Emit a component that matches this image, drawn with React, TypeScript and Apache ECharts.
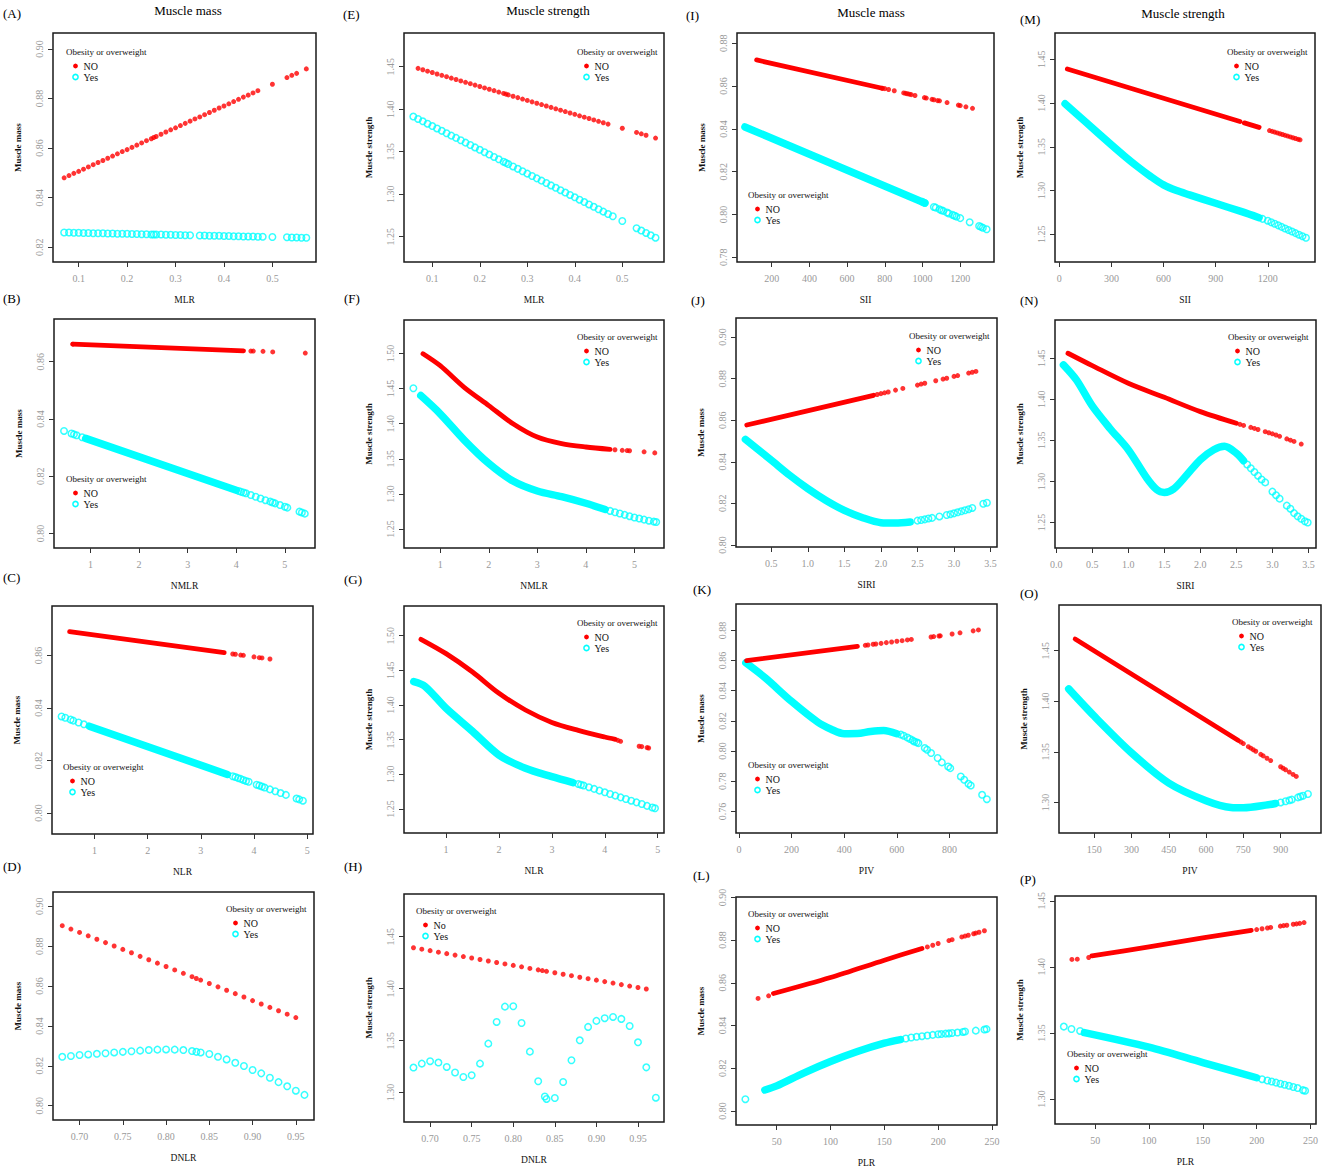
import React, { useEffect, useRef } from 'react';
import * as echarts from 'echarts';

type P = [number, number];

const FONT = '"Liberation Serif", "Times New Roman", serif';
const RED = '#FF0000';
const CYAN = '#00FFFF';

// ---------------- Panel A (MLR, muscle mass)
const aNoPts: P[] = [[0.07,0.8480],[0.08,0.8489],[0.09,0.8498],[0.10,0.8506],[0.11,0.8515],[0.12,0.8524],[0.13,0.8533],[0.14,0.8542],[0.15,0.8550],[0.16,0.8559],[0.17,0.8568],[0.18,0.8577],[0.19,0.8586],[0.20,0.8594],[0.21,0.8603],[0.22,0.8612],[0.23,0.8621],[0.24,0.8630],[0.25,0.8638],[0.255,0.8643],[0.26,0.8647],[0.27,0.8656],[0.28,0.8665],[0.29,0.8674],[0.30,0.8682],[0.31,0.8691],[0.32,0.8700],[0.33,0.8709],[0.34,0.8718],[0.35,0.8726],[0.36,0.8735],[0.37,0.8744],[0.38,0.8753],[0.39,0.8762],[0.40,0.8770],[0.41,0.8779],[0.42,0.8788],[0.43,0.8797],[0.44,0.8806],[0.45,0.8814],[0.46,0.8823],[0.47,0.8832],[0.50,0.8858],[0.53,0.8885],[0.54,0.8894],[0.55,0.8902],[0.57,0.8920]];
const aYesPts: P[] = [[0.07,0.8259],[0.08,0.8259],[0.09,0.8258],[0.10,0.8258],[0.11,0.8257],[0.12,0.8257],[0.13,0.8256],[0.14,0.8256],[0.15,0.8256],[0.16,0.8255],[0.17,0.8255],[0.18,0.8254],[0.19,0.8254],[0.20,0.8254],[0.21,0.8253],[0.22,0.8253],[0.23,0.8252],[0.24,0.8252],[0.25,0.8251],[0.255,0.8251],[0.26,0.8251],[0.27,0.8251],[0.28,0.8250],[0.29,0.8250],[0.30,0.8249],[0.31,0.8249],[0.32,0.8248],[0.33,0.8248],[0.35,0.8247],[0.36,0.8247],[0.37,0.8246],[0.38,0.8246],[0.39,0.8246],[0.40,0.8245],[0.41,0.8245],[0.42,0.8244],[0.43,0.8244],[0.44,0.8243],[0.45,0.8243],[0.46,0.8243],[0.47,0.8242],[0.48,0.8242],[0.50,0.8241],[0.53,0.8240],[0.54,0.8239],[0.55,0.8239],[0.56,0.8238],[0.57,0.8238]];

// ---------------- Panel E (MLR, muscle strength)
const eNoPts: P[] = [[0.07,1.4480],[0.08,1.4464],[0.09,1.4447],[0.10,1.4431],[0.11,1.4414],[0.12,1.4398],[0.13,1.4382],[0.14,1.4365],[0.15,1.4349],[0.16,1.4332],[0.17,1.4316],[0.18,1.4300],[0.19,1.4283],[0.20,1.4267],[0.21,1.4250],[0.22,1.4234],[0.23,1.4218],[0.24,1.4201],[0.25,1.4185],[0.255,1.4177],[0.26,1.4168],[0.27,1.4152],[0.28,1.4136],[0.29,1.4119],[0.30,1.4103],[0.31,1.4086],[0.32,1.4070],[0.33,1.4054],[0.34,1.4037],[0.35,1.4021],[0.36,1.4004],[0.37,1.3988],[0.38,1.3972],[0.39,1.3955],[0.40,1.3939],[0.41,1.3922],[0.42,1.3906],[0.43,1.3890],[0.44,1.3873],[0.45,1.3857],[0.46,1.3840],[0.47,1.3824],[0.50,1.3775],[0.53,1.3726],[0.54,1.3710],[0.55,1.3693],[0.57,1.3660]];
const eYesPts: P[] = [[0.06,1.3913],[0.07,1.3885],[0.08,1.3857],[0.09,1.3829],[0.10,1.3801],[0.11,1.3773],[0.12,1.3745],[0.13,1.3717],[0.14,1.3689],[0.15,1.3662],[0.16,1.3634],[0.17,1.3606],[0.18,1.3578],[0.19,1.3550],[0.20,1.3522],[0.21,1.3494],[0.22,1.3466],[0.23,1.3438],[0.24,1.3410],[0.25,1.3382],[0.255,1.3368],[0.26,1.3354],[0.27,1.3326],[0.28,1.3298],[0.29,1.3270],[0.30,1.3242],[0.31,1.3214],[0.32,1.3186],[0.33,1.3159],[0.34,1.3131],[0.35,1.3103],[0.36,1.3075],[0.37,1.3047],[0.38,1.3019],[0.39,1.2991],[0.40,1.2963],[0.41,1.2935],[0.42,1.2907],[0.43,1.2879],[0.44,1.2851],[0.45,1.2823],[0.46,1.2795],[0.47,1.2767],[0.48,1.2740],[0.50,1.2684],[0.53,1.2600],[0.54,1.2572],[0.55,1.2544],[0.56,1.2516],[0.57,1.2488]];

// ---------------- Panel I (SII, muscle mass)
const iNoBand: P[] = [[120,0.8722],[786,0.8590]];
const iNoPts: P[] = [[786,0.8590],[800,0.8588],[820,0.8584],[850,0.8578],[900,0.8568],[910,0.8566],[920,0.8564],[930,0.8562],[940,0.8560],[960,0.8556],[1010,0.8546],[1020,0.8544],[1050,0.8538],[1060,0.8536],[1080,0.8532],[1090,0.8531],[1130,0.8523],[1190,0.8511],[1200,0.8509],[1230,0.8503],[1265,0.8496]];
const iYesBand: P[] = [[58,0.8409],[1012,0.8054]];
const iYesPts: P[] = [[1000,0.8059],[1012,0.8054],[1060,0.8035],[1070,0.8032],[1090,0.8024],[1100,0.8020],[1110,0.8017],[1130,0.8009],[1140,0.8005],[1160,0.7998],[1170,0.7994],[1180,0.7990],[1200,0.7983],[1250,0.7964],[1300,0.7946],[1310,0.7942],[1320,0.7938],[1340,0.7931]];

// ---------------- Panel M (SII, muscle strength)
const mNoBand1: P[] = [[46,1.4389],[1040,1.3789]];
const mNoBand2: P[] = [[1065,1.3774],[1150,1.3722]];
const mNoPts: P[] = [[1210,1.3686],[1225,1.3677],[1240,1.3668],[1255,1.3659],[1270,1.3650],[1285,1.3641],[1300,1.3632],[1315,1.3623],[1330,1.3613],[1345,1.3604],[1360,1.3595],[1375,1.3586],[1386,1.3580]];
const mYesBand: P[] = [[33,1.3992],[150,1.3786],[300,1.3523],[375,1.3395],[450,1.3274],[525,1.3163],[600,1.3065],[675,1.3000],[750,1.2951],[900,1.2855],[1050,1.2759],[1150,1.2690]];
const mYesPts: P[] = [[1170,1.2677],[1200,1.2656],[1220,1.2638],[1240,1.2621],[1260,1.2603],[1280,1.2585],[1300,1.2567],[1320,1.2549],[1340,1.2532],[1360,1.2514],[1380,1.2496],[1400,1.2479],[1420,1.2461]];

// ---------------- Panel B (NMLR, muscle mass)
const bNoBand: P[] = [[0.636,0.8661],[4.15,0.8638]];
const bNoPts: P[] = [[0.636,0.8661],[4.3,0.8637],[4.35,0.8637],[4.55,0.8636],[4.75,0.8634],[5.42,0.8630]];
const bYesBand: P[] = [[0.9,0.8332],[4.0,0.8151]];
const bYesPts: P[] = [[0.455,0.8358],[0.609,0.8349],[0.66,0.8346],[0.714,0.8343],[0.827,0.8336],[4.05,0.8148],[4.1,0.8145],[4.15,0.8143],[4.2,0.8140],[4.3,0.8134],[4.4,0.8128],[4.5,0.8122],[4.6,0.8116],[4.7,0.8111],[4.75,0.8108],[4.8,0.8105],[4.9,0.8099],[5.0,0.8093],[5.05,0.8090],[5.3,0.8076],[5.35,0.8073],[5.41,0.8069]];

// ---------------- Panel F (NMLR, muscle strength)
const fNoBand: P[] = [[0.645,1.4996],[1,1.4826],[1.5,1.4514],[2,1.4259],[2.5,1.4000],[3,1.3810],[3.5,1.3717],[4,1.3669],[4.5,1.3636]];
const fNoPts: P[] = [[4.6,1.3630],[4.75,1.3622],[4.85,1.3618],[4.9,1.3615],[5.2,1.3600],[5.42,1.3585]];
const fYesBand: P[] = [[0.6,1.4401],[1,1.4142],[1.5,1.3764],[2,1.3435],[2.5,1.3184],[3,1.3042],[3.5,1.2962],[4,1.2868],[4.4,1.2780]];
const fYesPts: P[] = [[0.447,1.4505],[4.5,1.2759],[4.6,1.2740],[4.7,1.2722],[4.8,1.2703],[4.9,1.2684],[5.0,1.2665],[5.1,1.2650],[5.2,1.2635],[5.3,1.2620],[5.4,1.2607],[5.45,1.2600]];

// ---------------- Panel J (SIRI, muscle mass)
const jNoBand: P[] = [[0.165,0.8577],[1.9,0.8720]];
const jNoPts: P[] = [[1.95,0.8724],[2.0,0.8728],[2.05,0.8732],[2.1,0.8736],[2.2,0.8745],[2.3,0.8753],[2.5,0.8769],[2.55,0.8774],[2.6,0.8778],[2.75,0.8790],[2.85,0.8798],[2.9,0.8802],[3.0,0.8811],[3.05,0.8815],[3.2,0.8827],[3.25,0.8831],[3.3,0.8835]];
const jYesBand: P[] = [[0.147,0.8508],[0.5,0.8408],[0.75,0.8336],[1.0,0.8271],[1.25,0.8214],[1.5,0.8166],[1.75,0.8131],[2.0,0.8107],[2.2,0.8105],[2.4,0.8110]];
const jYesPts: P[] = [[2.5,0.8117],[2.55,0.8120],[2.6,0.8123],[2.65,0.8127],[2.7,0.8130],[2.8,0.8137],[2.9,0.8144],[2.95,0.8148],[3.0,0.8152],[3.05,0.8157],[3.1,0.8162],[3.15,0.8167],[3.2,0.8172],[3.25,0.8178],[3.4,0.8198],[3.45,0.8203]];

// ---------------- Panel N (SIRI, muscle strength)
const nNoBand: P[] = [[0.163,1.4561],[0.5,1.4410],[1.0,1.4195],[1.5,1.4024],[2.0,1.3850],[2.5,1.3708]];
const nNoPts: P[] = [[2.55,1.3695],[2.6,1.3682],[2.7,1.3658],[2.75,1.3645],[2.8,1.3632],[2.9,1.3606],[2.95,1.3593],[3.0,1.3580],[3.05,1.3565],[3.1,1.3549],[3.2,1.3518],[3.25,1.3502],[3.3,1.3487],[3.4,1.3455]];
const nYesBand: P[] = [[0.10,1.4419],[0.28,1.4236],[0.5,1.3919],[0.744,1.3647],[1.0,1.3386],[1.256,1.3041],[1.395,1.2899],[1.5,1.2866],[1.628,1.2907],[1.814,1.3081],[2.0,1.3265],[2.186,1.3386],[2.335,1.3427],[2.5,1.3343],[2.6,1.3252]];
const nYesPts: P[] = [[2.65,1.3206],[2.7,1.3160],[2.75,1.3115],[2.8,1.3070],[2.85,1.3024],[2.9,1.2988],[3.0,1.2876],[3.05,1.2832],[3.1,1.2790],[3.2,1.2705],[3.25,1.2668],[3.3,1.2614],[3.35,1.2575],[3.4,1.2545],[3.45,1.2515],[3.49,1.2500]];

// ---------------- Panel C (NLR, muscle mass)
const cNoBand: P[] = [[0.531,0.8691],[3.44,0.8611]];
const cNoPts: P[] = [[3.6,0.8606],[3.65,0.8605],[3.75,0.8602],[3.8,0.8601],[4.0,0.8595],[4.1,0.8592],[4.15,0.8591],[4.3,0.8587]];
const cYesBand: P[] = [[0.9,0.8331],[3.5,0.8147]];
const cYesPts: P[] = [[0.38,0.8368],[0.45,0.8363],[0.55,0.8356],[0.6,0.8352],[0.7,0.8345],[0.8,0.8338],[3.6,0.8140],[3.65,0.8137],[3.7,0.8133],[3.75,0.8130],[3.8,0.8126],[3.85,0.8122],[3.9,0.8119],[4.05,0.8108],[4.1,0.8105],[4.15,0.8101],[4.2,0.8097],[4.3,0.8090],[4.4,0.8083],[4.5,0.8076],[4.6,0.8069],[4.8,0.8055],[4.85,0.8052],[4.92,0.8047]];

// ---------------- Panel G (NLR, muscle strength)
const gNoBand: P[] = [[0.524,1.4948],[1,1.4741],[1.5,1.4476],[2,1.4169],[2.5,1.3928],[3,1.3749],[3.5,1.3634],[4,1.3538],[4.2,1.3505]];
const gNoPts: P[] = [[4.25,1.3490],[4.3,1.3476],[4.65,1.3405],[4.7,1.3400],[4.8,1.3385],[4.83,1.3380]];
const gYesBand: P[] = [[0.388,1.4337],[0.6,1.4269],[1,1.3952],[1.5,1.3620],[2,1.3278],[2.5,1.3087],[3,1.2966],[3.4,1.2880]];
const gYesPts: P[] = [[3.5,1.2860],[3.55,1.2850],[3.6,1.2838],[3.7,1.2815],[3.8,1.2790],[3.9,1.2765],[4.0,1.2741],[4.1,1.2717],[4.2,1.2693],[4.3,1.2668],[4.4,1.2644],[4.5,1.2620],[4.6,1.2596],[4.7,1.2572],[4.8,1.2545],[4.9,1.2522],[4.95,1.2510]];

// ---------------- Panel K (PIV, muscle mass)
const kNoBand: P[] = [[29,0.8600],[450,0.8694]];
const kNoPts: P[] = [[480,0.8701],[490,0.8703],[510,0.8708],[520,0.8710],[540,0.8714],[560,0.8719],[580,0.8723],[600,0.8728],[620,0.8732],[640,0.8737],[655,0.8740],[730,0.8756],[740,0.8759],[760,0.8763],[765,0.8764],[810,0.8776],[840,0.8784],[890,0.8797],[910,0.8803]];
const kYesBand: P[] = [[26,0.8585],[100,0.8485],[200,0.8329],[300,0.8191],[350,0.8145],[400,0.8115],[450,0.8116],[500,0.8130],[550,0.8137],[600,0.8115]];
const kYesPts: P[] = [[615,0.8110],[626,0.8102],[640,0.8090],[650,0.8080],[660,0.8071],[666,0.8064],[675,0.8058],[682,0.8053],[706,0.8020],[715,0.8009],[730,0.7987],[755,0.7954],[771,0.7925],[795,0.7898],[803,0.7887],[843,0.7832],[856,0.7810],[872,0.7783],[881,0.7772],[924,0.7710],[942,0.7681]];

// ---------------- Panel O (PIV, muscle strength)
const oNoBand: P[] = [[73,1.4615],[730,1.3612]];
const oNoPts: P[] = [[740,1.3597],[750,1.3582],[770,1.3551],[780,1.3536],[790,1.3521],[800,1.3506],[820,1.3475],[830,1.3460],[845,1.3437],[860,1.3414],[900,1.3353],[910,1.3338],[920,1.3323],[935,1.3300],[950,1.3277],[963,1.3257]];
const oYesBand: P[] = [[47,1.4122],[150,1.3852],[300,1.3490],[450,1.3191],[600,1.3017],[700,1.2951],[750,1.2948],[850,1.2977],[880,1.2990]];
const oYesPts: P[] = [[900,1.3000],[920,1.3012],[935,1.3022],[945,1.3028],[970,1.3050],[980,1.3058],[990,1.3066],[1010,1.3083]];

// ---------------- Panel D (DNLR, muscle mass)
const dNoPts: P[] = [[0.68,0.8903],[0.69,0.8886],[0.70,0.8869],[0.71,0.8852],[0.72,0.8835],[0.73,0.8818],[0.74,0.8801],[0.75,0.8784],[0.76,0.8767],[0.77,0.8749],[0.78,0.8732],[0.79,0.8715],[0.80,0.8698],[0.81,0.8681],[0.82,0.8664],[0.83,0.8647],[0.835,0.8638],[0.84,0.8630],[0.85,0.8613],[0.86,0.8596],[0.87,0.8579],[0.88,0.8562],[0.89,0.8545],[0.90,0.8527],[0.91,0.8510],[0.92,0.8493],[0.93,0.8476],[0.94,0.8459],[0.95,0.8442]];
const dYesPts: P[] = [[0.68,0.8245],[0.69,0.8249],[0.70,0.8254],[0.71,0.8257],[0.72,0.8260],[0.73,0.8263],[0.74,0.8267],[0.75,0.8270],[0.76,0.8273],[0.77,0.8276],[0.78,0.8279],[0.79,0.8281],[0.80,0.8282],[0.81,0.8281],[0.82,0.8279],[0.83,0.8274],[0.835,0.8270],[0.84,0.8267],[0.85,0.8259],[0.86,0.8245],[0.87,0.8232],[0.88,0.8215],[0.89,0.8199],[0.90,0.8179],[0.91,0.8162],[0.92,0.8140],[0.93,0.8118],[0.94,0.8097],[0.95,0.8075],[0.96,0.8054]];

// ---------------- Panel H (DNLR, muscle strength)
const hNoPts: P[] = [[0.68,1.4394],[0.69,1.4380],[0.70,1.4366],[0.71,1.4351],[0.72,1.4337],[0.73,1.4323],[0.74,1.4309],[0.75,1.4295],[0.76,1.4281],[0.77,1.4266],[0.78,1.4252],[0.79,1.4238],[0.80,1.4224],[0.81,1.4210],[0.82,1.4195],[0.83,1.4181],[0.835,1.4174],[0.84,1.4167],[0.85,1.4153],[0.86,1.4139],[0.87,1.4125],[0.88,1.4110],[0.89,1.4096],[0.90,1.4082],[0.91,1.4068],[0.92,1.4054],[0.93,1.4039],[0.94,1.4025],[0.95,1.4011],[0.96,1.3997]];
const hYesPts: P[] = [[0.68,1.3241],[0.69,1.3279],[0.70,1.3302],[0.71,1.3289],[0.72,1.3247],[0.73,1.3193],[0.74,1.3150],[0.75,1.3167],[0.76,1.3279],[0.77,1.3471],[0.78,1.3680],[0.79,1.3827],[0.80,1.3831],[0.81,1.3670],[0.82,1.3394],[0.83,1.3109],[0.838,1.2962],[0.840,1.2939],[0.85,1.2948],[0.86,1.3102],[0.87,1.3311],[0.88,1.3503],[0.89,1.3632],[0.90,1.3690],[0.91,1.3716],[0.92,1.3728],[0.93,1.3709],[0.94,1.3641],[0.95,1.3484],[0.96,1.3243],[0.9715,1.2951]];

// ---------------- Panel L (PLR, muscle mass)
const lNoBand: P[] = [[47,0.8550],[100,0.8625],[150,0.8706],[185,0.8761]];
const lNoPts: P[] = [[32.7,0.8527],[42.5,0.8539],[190,0.8768],[195,0.8776],[200,0.8784],[210,0.8798],[213,0.8802],[222,0.8815],[225,0.8819],[228,0.8823],[233,0.8830],[235,0.8833],[238,0.8837],[243,0.8844]];
const lYesBand: P[] = [[39,0.8098],[50,0.8117],[75,0.8177],[100,0.8231],[125,0.8278],[150,0.8317],[165,0.8334]];
const lYesPts: P[] = [[20.9,0.8055],[170,0.8339],[175,0.8344],[180,0.8347],[185,0.8350],[190,0.8353],[195,0.8356],[200,0.8359],[203,0.8360],[207,0.8362],[210,0.8363],[213,0.8365],[218,0.8367],[223,0.8370],[225,0.8372],[235,0.8376],[243,0.8381],[245,0.8383]];

// ---------------- Panel P (PLR, muscle strength)
const pNoBand: P[] = [[47,1.4083],[100,1.4151],[150,1.4219],[195,1.4276]];
const pNoPts: P[] = [[28.4,1.4056],[33.4,1.4058],[44,1.4071],[200,1.4282],[205,1.4288],[210,1.4294],[213,1.4298],[222,1.4308],[225,1.4312],[228,1.4315],[234,1.4322],[237,1.4325],[240,1.4329],[244,1.4335]];
const pYesBand: P[] = [[40,1.3502],[100,1.3392],[150,1.3276],[200,1.3161]];
const pYesPts: P[] = [[20.9,1.3548],[28,1.3530],[36,1.3515],[205,1.3150],[210,1.3140],[214,1.3132],[218,1.3124],[222,1.3116],[226,1.3108],[230,1.3100],[234,1.3091],[238,1.3083],[243,1.3067],[245,1.3063]];

// ---------------- tick labels
const mlrTicks = [0.1, 0.2, 0.3, 0.4, 0.5];
const intTicks = [1, 2, 3, 4, 5];
const dnlrTicks = [0.70, 0.75, 0.80, 0.85, 0.90, 0.95];
const siiTicksI = [200, 400, 600, 800, 1000, 1200];
const siiTicksM = [0, 300, 600, 900, 1200];
const siriTicksJ = [0.5, 1.0, 1.5, 2.0, 2.5, 3.0, 3.5];
const siriTicksN = [0.0, 0.5, 1.0, 1.5, 2.0, 2.5, 3.0, 3.5];
const pivTicksK = [0, 200, 400, 600, 800];
const pivTicksO = [150, 300, 450, 600, 750, 900];
const plrTicks = [50, 100, 150, 200, 250];
const massTicks90 = [0.82, 0.84, 0.86, 0.88, 0.90];
const strTicks = [1.25, 1.30, 1.35, 1.40, 1.45];

interface Panel {
  letter: string; lp: [number, number];
  box: [number, number, number, number];
  xr: [number, number]; yr: [number, number];
  xt: number[]; yt: number[]; xd: number;
  xname: string; yname: string;
  leg: [number, number]; noLabel: string;
  noBands: P[][]; noPts: P[]; yesBands: P[][]; yesPts: P[];
}

const panels: Panel[] = [
  { letter: '(A)', lp: [3, 13], box: [53, 33, 316, 262], xr: [0.047, 0.590], yr: [0.814, 0.9065], xt: mlrTicks, yt: massTicks90, xd: 1, xname: 'MLR', yname: 'Muscle mass', leg: [66, 52], noLabel: 'NO', noBands: [], noPts: aNoPts, yesBands: [], yesPts: aYesPts },
  { letter: '(E)', lp: [343, 14], box: [404, 33, 664, 262], xr: [0.0404, 0.5878], yr: [1.2202, 1.4896], xt: mlrTicks, yt: strTicks, xd: 1, xname: 'MLR', yname: 'Muscle strength', leg: [577, 52], noLabel: 'NO', noBands: [], noPts: eNoPts, yesBands: [], yesPts: eYesPts },
  { letter: '(I)', lp: [686, 15], box: [737, 33, 994, 262], xr: [16, 1379], yr: [0.7778, 0.8848], xt: siiTicksI, yt: [0.78, 0.80, 0.82, 0.84, 0.86, 0.88], xd: 0, xname: 'SII', yname: 'Muscle mass', leg: [748, 195], noLabel: 'NO', noBands: [iNoBand], noPts: iNoPts, yesBands: [iYesBand], yesPts: iYesPts },
  { letter: '(M)', lp: [1020, 19], box: [1055, 33, 1315, 262], xr: [-25, 1472], yr: [1.2184, 1.4801], xt: siiTicksM, yt: strTicks, xd: 0, xname: 'SII', yname: 'Muscle strength', leg: [1227, 52], noLabel: 'NO', noBands: [mNoBand1, mNoBand2], noPts: mNoPts, yesBands: [mYesBand], yesPts: mYesPts },

  { letter: '(B)', lp: [3, 298], box: [54, 319, 315, 548], xr: [0.249, 5.62], yr: [0.7949, 0.8749], xt: intTicks, yt: [0.80, 0.82, 0.84, 0.86], xd: 0, xname: 'NMLR', yname: 'Muscle mass', leg: [66, 479], noLabel: 'NO', noBands: [bNoBand], noPts: bNoPts, yesBands: [bYesBand], yesPts: bYesPts },
  { letter: '(F)', lp: [344, 298], box: [404, 320, 664, 548], xr: [0.254, 5.61], yr: [1.2231, 1.5477], xt: intTicks, yt: [1.25, 1.30, 1.35, 1.40, 1.45, 1.50], xd: 0, xname: 'NMLR', yname: 'Muscle strength', leg: [577, 337], noLabel: 'NO', noBands: [fNoBand], noPts: fNoPts, yesBands: [fYesBand], yesPts: fYesPts },
  { letter: '(J)', lp: [691, 300], box: [736, 318, 997, 547], xr: [0.018, 3.588], yr: [0.799, 0.9092], xt: siriTicksJ, yt: [0.80, 0.82, 0.84, 0.86, 0.88, 0.90], xd: 1, xname: 'SIRI', yname: 'Muscle mass', leg: [909, 336], noLabel: 'NO', noBands: [jNoBand], noPts: jNoPts, yesBands: [jYesBand], yesPts: jYesPts },
  { letter: '(N)', lp: [1020, 300], box: [1055, 320, 1316, 548], xr: [-0.017, 3.605], yr: [1.2189, 1.4966], xt: siriTicksN, yt: strTicks, xd: 1, xname: 'SIRI', yname: 'Muscle strength', leg: [1228, 337], noLabel: 'NO', noBands: [nNoBand], noPts: nNoPts, yesBands: [nYesBand], yesPts: nYesPts },

  { letter: '(C)', lp: [3, 577], box: [52, 606, 313, 834], xr: [0.2, 5.11], yr: [0.792, 0.8789], xt: intTicks, yt: [0.80, 0.82, 0.84, 0.86], xd: 0, xname: 'NLR', yname: 'Muscle mass', leg: [63, 767], noLabel: 'NO', noBands: [cNoBand], noPts: cNoPts, yesBands: [cYesBand], yesPts: cYesPts },
  { letter: '(G)', lp: [344, 579], box: [404, 606, 664, 833], xr: [0.204, 5.12], yr: [1.2154, 1.5428], xt: intTicks, yt: [1.25, 1.30, 1.35, 1.40, 1.45, 1.50], xd: 0, xname: 'NLR', yname: 'Muscle strength', leg: [577, 623], noLabel: 'NO', noBands: [gNoBand], noPts: gNoPts, yesBands: [gYesBand], yesPts: gYesPts },
  { letter: '(K)', lp: [693, 589], box: [736, 604, 997, 833], xr: [-11.4, 980.6], yr: [0.7457, 0.8975], xt: pivTicksK, yt: [0.76, 0.78, 0.80, 0.82, 0.84, 0.86, 0.88], xd: 0, xname: 'PIV', yname: 'Muscle mass', leg: [748, 765], noLabel: 'NO', noBands: [kNoBand], noPts: kNoPts, yesBands: [kYesBand], yesPts: kYesPts },
  { letter: '(O)', lp: [1020, 593], box: [1059, 605, 1321, 833], xr: [8, 1062.5], yr: [1.2698, 1.4951], xt: pivTicksO, yt: [1.30, 1.35, 1.40, 1.45], xd: 0, xname: 'PIV', yname: 'Muscle strength', leg: [1232, 622], noLabel: 'NO', noBands: [oNoBand], noPts: oNoPts, yesBands: [oYesBand], yesPts: oYesPts },

  { letter: '(D)', lp: [3, 866], box: [53, 892, 314, 1120], xr: [0.6693, 0.971], yr: [0.7928, 0.9072], xt: dnlrTicks, yt: [0.80, 0.82, 0.84, 0.86, 0.88, 0.90], xd: 2, xname: 'DNLR', yname: 'Muscle mass', leg: [226, 909], noLabel: 'NO', noBands: [], noPts: dNoPts, yesBands: [], yesPts: dYesPts },
  { letter: '(H)', lp: [344, 866], box: [404, 894, 664, 1122], xr: [0.6686, 0.9813], yr: [1.2717, 1.4911], xt: dnlrTicks, yt: [1.30, 1.35, 1.40, 1.45], xd: 2, xname: 'DNLR', yname: 'Muscle strength', leg: [416, 911], noLabel: 'No', noBands: [], noPts: hNoPts, yesBands: [], yesPts: hYesPts },
  { letter: '(L)', lp: [693, 875], box: [736, 897, 997, 1125], xr: [12.2, 254.7], yr: [0.7934, 0.9002], xt: plrTicks, yt: [0.80, 0.82, 0.84, 0.86, 0.88, 0.90], xd: 0, xname: 'PLR', yname: 'Muscle mass', leg: [748, 914], noLabel: 'NO', noBands: [lNoBand], noPts: lNoPts, yesBands: [lYesBand], yesPts: lYesPts },
  { letter: '(P)', lp: [1020, 879], box: [1055, 896, 1316, 1124], xr: [12.7, 255.1], yr: [1.2811, 1.4536], xt: plrTicks, yt: [1.30, 1.35, 1.40, 1.45], xd: 0, xname: 'PLR', yname: 'Muscle strength', leg: [1067, 1054], noLabel: 'NO', noBands: [pNoBand], noPts: pNoPts, yesBands: [pYesBand], yesPts: pYesPts },
];

const columnTitles: { text: string; x: number; y: number }[] = [
  { text: 'Muscle mass', x: 188, y: 10 },
  { text: 'Muscle strength', x: 548, y: 10 },
  { text: 'Muscle mass', x: 871, y: 12 },
  { text: 'Muscle strength', x: 1183, y: 13 },
];

function buildOption() {
  const grid: any[] = [];
  const xAxis: any[] = [];
  const yAxis: any[] = [];
  const series: any[] = [];
  const graphic: any[] = [];

  panels.forEach((p, i) => {
    const [l, t, r, b] = p.box;
    grid.push({ left: l, top: t, width: r - l, height: b - t, show: true, borderColor: '#1a1a1a', borderWidth: 1.5, backgroundColor: 'transparent' });
    xAxis.push({
      type: 'value', gridIndex: i, min: p.xr[0], max: p.xr[1],
      splitLine: { show: false },
      axisLine: { show: false, onZero: false },
      axisTick: { show: true, length: 5, customValues: p.xt, lineStyle: { color: '#333', width: 1 } },
      axisLabel: { customValues: p.xt, formatter: (v: number) => v.toFixed(p.xd), color: '#999', fontSize: 10, fontFamily: FONT, margin: 11 },
      name: p.xname, nameLocation: 'middle', nameGap: 33,
      nameTextStyle: { color: '#111', fontSize: 9.5, fontFamily: FONT },
    });
    yAxis.push({
      type: 'value', gridIndex: i, min: p.yr[0], max: p.yr[1],
      splitLine: { show: false },
      axisLine: { show: false, onZero: false },
      axisTick: { show: true, length: 5, customValues: p.yt, lineStyle: { color: '#333', width: 1 } },
      axisLabel: { customValues: p.yt, formatter: (v: number) => v.toFixed(2), color: '#999', fontSize: 10, fontFamily: FONT, margin: 9, rotate: 90 },
      name: p.yname, nameLocation: 'middle', nameGap: 31, nameRotate: 90,
      nameTextStyle: { color: '#111', fontSize: 9, fontWeight: 'bold', fontFamily: FONT },
    });

    const band = (data: P[], color: string, width: number) => ({
      type: 'line', xAxisIndex: i, yAxisIndex: i, data, smooth: 0.3,
      showSymbol: false, silent: true, lineStyle: { color, width, cap: 'round', join: 'round' },
    });
    p.yesBands.forEach((d) => series.push(band(d, CYAN, 7.5)));
    series.push({
      type: 'scatter', xAxisIndex: i, yAxisIndex: i, data: p.yesPts, symbol: 'circle', symbolSize: 6.5, silent: true,
      itemStyle: { color: 'rgba(0,0,0,0)', borderColor: CYAN, borderWidth: 1.5 },
    });
    p.noBands.forEach((d) => series.push(band(d, RED, 4.8)));
    series.push({
      type: 'scatter', xAxisIndex: i, yAxisIndex: i, data: p.noPts, symbol: 'circle', symbolSize: 5, silent: true,
      itemStyle: { color: RED },
    });

    graphic.push({ type: 'text', x: p.lp[0], y: p.lp[1], style: { text: p.letter, fill: '#000', fontSize: 13, fontFamily: FONT, align: 'left', verticalAlign: 'middle' } });
    const [L, T] = p.leg;
    graphic.push({ type: 'text', x: L, y: T, style: { text: 'Obesity or overweight', fill: '#111', fontSize: 9, fontFamily: FONT, align: 'left', verticalAlign: 'middle' } });
    graphic.push({ type: 'circle', shape: { cx: L + 9.5, cy: T + 14, r: 2.4 }, style: { fill: RED } });
    graphic.push({ type: 'text', x: L + 17.5, y: T + 14, style: { text: p.noLabel, fill: '#111', fontSize: 10, fontFamily: FONT, align: 'left', verticalAlign: 'middle' } });
    graphic.push({ type: 'circle', shape: { cx: L + 9.5, cy: T + 25, r: 2.6 }, style: { fill: 'rgba(0,0,0,0)', stroke: CYAN, lineWidth: 1.5 } });
    graphic.push({ type: 'text', x: L + 17.5, y: T + 25, style: { text: 'Yes', fill: '#111', fontSize: 10, fontFamily: FONT, align: 'left', verticalAlign: 'middle' } });
  });

  columnTitles.forEach((c) => {
    graphic.push({ type: 'text', x: c.x, y: c.y, style: { text: c.text, fill: '#000', fontSize: 13, fontFamily: FONT, align: 'center', verticalAlign: 'middle' } });
  });

  return {
    animation: false,
    backgroundColor: '#ffffff',
    textStyle: { fontFamily: FONT },
    grid, xAxis, yAxis, series, graphic,
  };
}

export default function App() {
  const ref = useRef<HTMLDivElement>(null);
  useEffect(() => {
    document.body.style.margin = '0';
    if (!ref.current) return;
    const chart = echarts.init(ref.current, undefined, { renderer: 'svg' });
    chart.setOption(buildOption() as any);
    return () => chart.dispose();
  }, []);
  return <div ref={ref} style={{ width: 1325, height: 1171 }} />;
}
